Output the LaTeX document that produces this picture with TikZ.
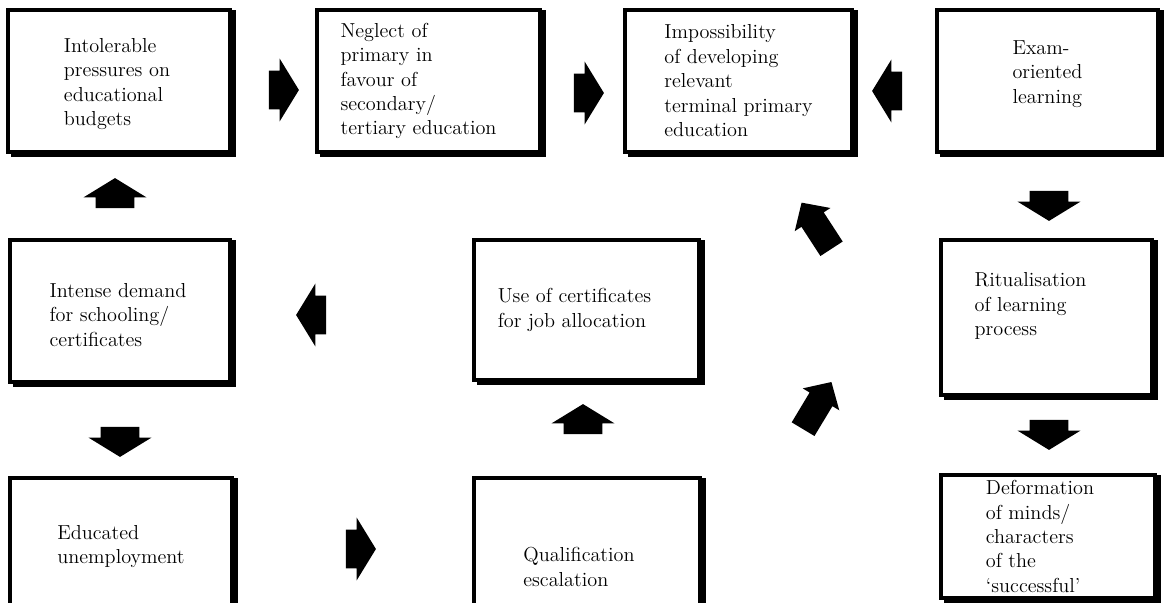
\documentclass[tikz,border=0pt]{standalone}
\usetikzlibrary{positioning, calc, shapes.arrows}

\begin{document}
\begin{tikzpicture}[
    x=0.025cm, y=-0.025cm,
    % --- Styles ---
    box/.style={draw=black, line width=0.12cm, fill=white, inner sep=0pt, outer sep=0pt},
    box_shade/.style={line width=0.12cm, color=black},
    label_text/.style={align=left, inner sep=0pt, font=\fontsize{14.4}{17.4}\selectfont},
    arrow_blk/.style={single arrow, fill=black, draw=none, inner xsep=0pt, inner ysep=0.475cm,
                      outer sep=0pt, minimum height=0.75cm,
                      single arrow head extend=0.3cm, single arrow tip angle=117},
    arrow_diag/.style={arrow_blk, inner ysep=0.325cm, minimum height=1.375cm,
                       single arrow head extend=0.2cm, single arrow tip angle=93}
]

    \useasboundingbox (0,0) rectangle (1164,603);
    \clip (0,0) rectangle (1164,603);

    % ==========================
    % 1. TOP ROW
    % ==========================
    \node[box, minimum width=5.55cm, minimum height=3.55cm] (bud) at (119,81) {};
    \node[box, minimum width=5.575cm, minimum height=3.55cm] (negl) at (428.5,81) {};
    \node[box, minimum width=5.675cm, minimum height=3.55cm] (imposs) at (738.5,81) {};
    \node[box, minimum width=5.525cm, minimum height=3.55cm] (exam) at (1047.5,81) {};

    % ==========================
    % 2. MIDDLE ROW
    % ==========================
    \node[box, minimum width=5.5cm, minimum height=3.55cm] (demand) at (120,311) {};
    \node[box, minimum width=5.625cm, minimum height=3.5cm] (certs) at (586.5,310) {};
    \node[box, minimum width=5.275cm, minimum height=3.875cm] (ritual) at (1046.5,317.5) {};

    % ==========================
    % 3. BOTTOM ROW
    % ==========================
    \node[box, minimum width=5.55cm, minimum height=3.425cm] (unemp) at (121,546.5) {};
    \node[box, minimum width=5.65cm, minimum height=4.05cm] (qual) at (587,559) {};
    \node[box, minimum width=5.35cm, minimum height=3.075cm] (deform) at (1048,536.5) {};

    % heavier right and bottom edges
    \foreach \b in {bud, negl, imposs, exam, demand, certs, ritual, unemp, qual, deform}
        \draw[box_shade] ([xshift=0.08cm, yshift=-0.06cm]\b.south west)
            -- ([xshift=0.08cm, yshift=-0.06cm]\b.south east)
            -- ([xshift=0.08cm]\b.north east);

    % box texts
    \node[label_text] (bud_txt) at ([xshift=-0.05cm, yshift=-0.08cm]bud.center)
        {Intolerable\\pressures on\\educational\\budgets};
    \node[label_text] (negl_txt) at ([xshift=-0.25cm]negl.center)
        {Neglect of\\primary in\\favour of\\secondary/\\tertiary education};
    \node[label_text] (imposs_txt) at (imposs.center)
        {Impossibility\\of developing\\relevant\\terminal primary\\education};
    \node[label_text] (exam_txt) at ([yshift=0.18cm]exam.center)
        {Exam-\\oriented\\learning};
    \node[label_text] (demand_txt) at ([xshift=-0.05cm, yshift=-0.1cm]demand.center)
        {Intense demand\\for schooling/\\certificates};
    \node[label_text] (certs_txt) at ([xshift=-0.3cm]certs.center)
        {Use of certificates\\for job allocation};
    \node[label_text] (ritual_txt) at ([xshift=-0.4cm, yshift=0.28cm]ritual.center)
        {Ritualisation\\of learning\\process};
    \node[label_text] (unemp_txt) at (unemp.center)
        {Educated\\unemployment};
    \node[label_text] (qual_txt) at ([xshift=-0.2cm, yshift=-0.2cm]qual.center)
        {Qualification\\escalation};
    \node[label_text] (deform_txt) at ([xshift=-0.2cm]deform.center)
        {Deformation\\of minds/\\characters\\of the\\`successful'};

    % ==========================
    % 4. BLOCK ARROWS
    % ==========================
    \node[arrow_blk] (a_bud_negl) at (278,90) {};
    \node[arrow_blk] (a_negl_imp) at (583,93) {};
    \node[arrow_blk, rotate=180] (a_exam_imp) at (893,91) {};

    \node[arrow_blk, rotate=90] (a_dem_bud) at (115,199) {};
    \node[arrow_blk, rotate=-90] (a_exam_rit) at (1049,200) {};
    \node[arrow_blk, rotate=180] (a_certs_dem) at (317,315) {};

    \node[arrow_diag, rotate=123] (a_certs_imp) at (820,231) {};
    \node[arrow_diag, rotate=59] (a_qual_rit) at (814,411) {};

    \node[arrow_blk, rotate=90] (a_qual_certs) at (583,425) {};
    \node[arrow_blk, rotate=-90] (a_rit_def) at (1049,429) {};
    \node[arrow_blk, rotate=-90] (a_dem_unemp) at (120,436) {};
    \node[arrow_blk] (a_unemp_qual) at (355,549) {};

\end{tikzpicture}
\end{document}
